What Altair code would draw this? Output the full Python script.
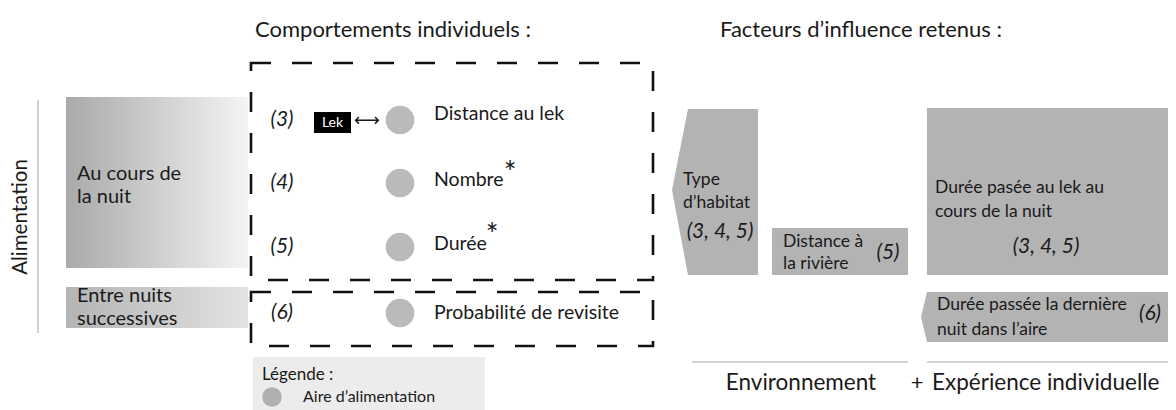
import altair as alt
import pandas as pd

# ---------------- content ----------------
titles = ["Comportements individuels :", "Facteurs d’influence retenus :"]
side_label = "Alimentation"
periods = [["Au cours de", "la nuit"], ["Entre nuits", "successives"]]
row_ids = ["(3)", "(4)", "(5)", "(6)"]
behaviours = ["Distance au lek", "Nombre", "Durée", "Probabilité de revisite"]
significant = [False, True, True, False]
factors = [["Type", "d’habitat"], ["Distance à", "la rivière"],
           ["Durée pasée au lek au", "cours de la nuit"],
           ["Durée passée la dernière", "nuit dans l’aire"]]
factor_refs = ["(3, 4, 5)", "(5)", "(3, 4, 5)", "(6)"]
groups = ["Environnement", "Expérience individuelle"]
legend_title = "Légende :"
legend_item = "Aire d’alimentation"
lek_label = "Lek"

# ---------------- layout (page pixel coordinates) ----------------
FONT = "Lato"
INK = "#1a1a1a"
GREY = "#b3b3b3"
row_y = [120, 183, 247, 313]
beh_y = [114, 180, 244, 313]
star_pos = [None, (510, 174), (492, 236), None]

XS = alt.Scale(domain=[8, 1168], nice=False, zero=False)
YS = alt.Scale(domain=[8, 410], nice=False, zero=False, reverse=True)


def X(f="x"):
    return alt.X(f"{f}:Q", scale=XS, axis=None)


def Y(f="y"):
    return alt.Y(f"{f}:Q", scale=YS, axis=None)


def rects(rows, **mk):
    df = pd.DataFrame(rows, columns=["x", "x2", "y", "y2"])
    return alt.Chart(df).mark_rect(**mk).encode(
        x=X(), x2=alt.X2("x2:Q"), y=Y(), y2=alt.Y2("y2:Q"))


def texts(rows, align="left", italic=False, angle=0, color=INK, font=FONT):
    df = pd.DataFrame(rows, columns=["x", "y", "t", "fs"])
    mk = dict(align=align, baseline="middle", font=font, color=color)
    if italic:
        mk["fontStyle"] = "italic"
    if angle:
        mk["angle"] = angle
    return alt.Chart(df).mark_text(**mk).encode(
        x=X(), y=Y(), text="t:N", size=alt.Size("fs:Q", scale=None, legend=None))


layers = []

# gradient boxes on the left
grad_a = alt.Gradient(gradient="linear", x1=0, x2=1, y1=0, y2=0,
                      stops=[alt.GradientStop(color="#a9a9a9", offset=0),
                             alt.GradientStop(color="#f4f4f4", offset=1)])
grad_b = alt.Gradient(gradient="linear", x1=0, x2=1, y1=0, y2=0,
                      stops=[alt.GradientStop(color="#b4b4b4", offset=0),
                             alt.GradientStop(color="#e2e2e2", offset=1)])
layers.append(rects([(66, 248, 97, 268)], fill=grad_a))
layers.append(rects([(66, 248, 287, 328)], fill=grad_b))

# legend box
layers.append(rects([(253, 485, 357, 410)], color="#ececec"))

# grey factor boxes
layers.append(rects([(772, 908, 228, 275), (927, 1170, 108, 275)], color=GREY))

# chevron shapes (horizontal areas)
chev1 = pd.DataFrame({"y": [109, 190, 275], "x": [688, 672, 688], "x2": [758, 758, 758]})
layers.append(alt.Chart(chev1).mark_area(orient="horizontal", color=GREY).encode(
    y=Y(), x=X(), x2=alt.X2("x2:Q")))
chev2 = pd.DataFrame({"y": [292, 317, 342], "x": [927, 921, 927], "x2": [1170, 1170, 1170]})
layers.append(alt.Chart(chev2).mark_area(orient="horizontal", color=GREY).encode(
    y=Y(), x=X(), x2=alt.X2("x2:Q")))

# dashed frames
layers.append(rects([(251, 653, 63, 280), (251, 653, 292, 346)], filled=False,
                    stroke="#111111", strokeWidth=2.6, strokeDash=[20, 21]))

# grey lines
lines = pd.DataFrame({"x": [38, 692, 927], "x2": [38, 908, 1170],
                      "y": [100, 362, 362], "y2": [333, 362, 362]})
layers.append(alt.Chart(lines).mark_rule(color="#c4c4c4", strokeWidth=1.6).encode(
    x=X(), x2=alt.X2("x2:Q"), y=Y(), y2=alt.Y2("y2:Q")))

# circles
circ = pd.DataFrame({"x": [400] * 4, "y": row_y})
layers.append(alt.Chart(circ).mark_circle(size=820, color="#bababa", opacity=1).encode(
    x=X(), y=Y()))
layers.append(alt.Chart(pd.DataFrame({"x": [272], "y": [397]})).mark_circle(
    size=380, color="#b0b0b0", opacity=1).encode(x=X(), y=Y()))

# Lek box
layers.append(rects([(314, 351, 112, 133)], color="black"))
layers.append(texts([(332.5, 122.5, lek_label, 14)], align="center", color="white"))
layers.append(texts([(367, 121, "⟷", 18)], align="center", font="DejaVu Sans"))

# texts - left aligned
left_rows = [
    (255, 30, titles[0], 22),
    (720, 30, titles[1], 22),
    (77, 174, periods[0][0], 20), (77, 197, periods[0][1], 20),
    (77, 296, periods[1][0], 20), (77, 319, periods[1][1], 20),
    (683, 180, factors[0][0], 17.5), (683, 203, factors[0][1], 17.5),
    (783, 242, factors[1][0], 17.5), (783, 264, factors[1][1], 17.5),
    (935, 188, factors[2][0], 17.5), (935, 212, factors[2][1], 17.5),
    (937, 305, factors[3][0], 17.5), (937, 330, factors[3][1], 17.5),
    (262, 375, legend_title, 17), (303, 397, legend_item, 16),
    (932, 383, groups[1], 22.5),
]
for b, yy in zip(behaviours, beh_y):
    left_rows.append((434, yy, b, 19.5))
layers.append(texts(left_rows))

center_rows = [(801, 383, groups[0], 22.5), (917, 383, "+", 22)]
for sig, sp in zip(significant, star_pos):
    if sig:
        center_rows.append((sp[0], sp[1], "*", 30))
layers.append(texts(center_rows, align="center"))

italic_rows = [(282, yy, r, 21) for r, yy in zip(row_ids, row_y)]
italic_rows += [(720, 232, factor_refs[0], 21), (888, 253, factor_refs[1], 21),
                (1046, 247, factor_refs[2], 21), (1150, 314, factor_refs[3], 21)]
layers.append(texts(italic_rows, align="center", italic=True))

layers.append(texts([(21, 217, side_label, 20.5)], align="center", angle=270))

chart = alt.layer(*layers).properties(
    width=1160, height=402, padding=0,
    autosize=alt.AutoSizeParams(type="none"),
).configure_view(stroke=None)

chart.save("out.html", embed_options={"renderer": "svg", "actions": False})
